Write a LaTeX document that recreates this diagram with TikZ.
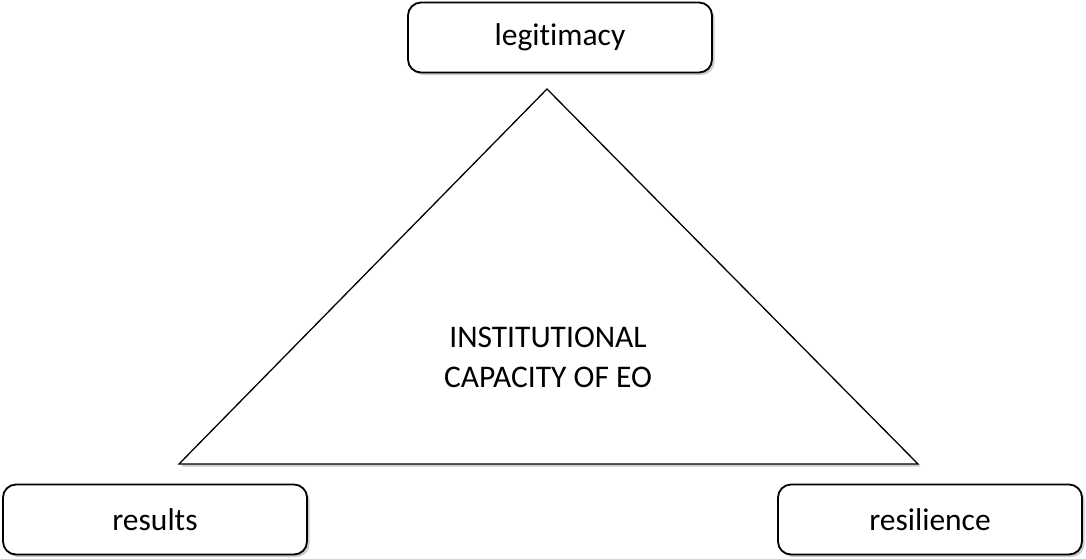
\documentclass[tikz,border=0pt]{standalone}
\usepackage{fontspec}
\setmainfont{Carlito}[Ligatures={NoCommon}]
\usetikzlibrary{shadows, positioning}

\begin{document}
\begin{tikzpicture}[x=1pt, y=-1pt,
        box/.style={rectangle, draw, fill=white, line width=1.8pt, rounded corners=13pt, minimum width=304pt, minimum height=70pt, font=\fontsize{31.5}{38}\selectfont, drop shadow={shadow xshift=2.5pt, shadow yshift=-2.5pt, opacity=0.4}},
        tri/.style={draw, fill=white, line width=1.3pt, line join=miter, drop shadow={shadow xshift=2.5pt, shadow yshift=-2.5pt, opacity=0.4}},
        label/.style={align=center, font=\fontsize{31.5}{40}\selectfont}]

    \useasboundingbox (0,0) rectangle (1086,558);

    % Triangle
    \coordinate (apex) at (547,89);
    \coordinate (left) at (179,464);
    \coordinate (right) at (918,464);
    \draw[tri] (apex) -- (left) -- (right) -- cycle;
    \node[label] (capacity) at (548,357) {INSTITUTIONAL\\CAPACITY OF EO};

    % Corners
    \node[box] (legitimacy) at (560,37.5) {legitimacy};
    \node[box] (results) at (155,519.5) {results};
    \node[box] (resilience) at (930,519.5) {resilience};

\end{tikzpicture}
\end{document}
